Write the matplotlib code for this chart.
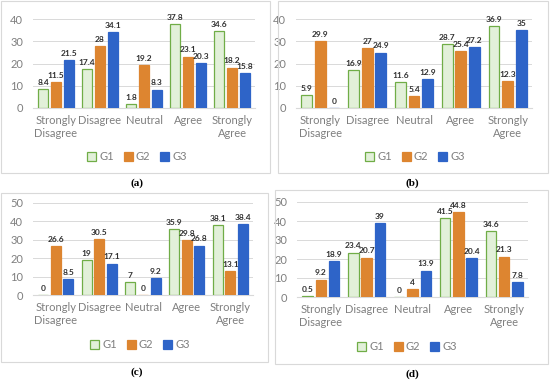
import numpy as np
from matplotlib import pyplot as plt
from matplotlib.patches import Rectangle, Patch

plt.rcParams['font.family'] = ['Lato', 'DejaVu Sans']

categories = ["Strongly\nDisagree", "Disagree", "Neutral", "Agree", "Strongly\nAgree"]
groups = ["G1", "G2", "G3"]

# panel (a)
a_g1 = [8.4, 17.4, 1.8, 37.8, 34.6]
a_g2 = [11.5, 28, 19.2, 23.1, 18.2]
a_g3 = [21.5, 34.1, 8.3, 20.3, 15.8]
# panel (b)
b_g1 = [5.9, 16.9, 11.6, 28.7, 36.9]
b_g2 = [29.9, 27, 5.4, 25.4, 12.3]
b_g3 = [0, 24.9, 12.9, 27.2, 35]
# panel (c)
c_g1 = [0, 19, 7, 35.9, 38.1]
c_g2 = [26.6, 30.5, 0, 29.8, 13.1]
c_g3 = [8.5, 17.1, 9.2, 26.8, 38.4]
# panel (d)
d_g1 = [0.5, 23.4, 0, 41.5, 34.6]
d_g2 = [9.2, 20.7, 4, 44.8, 21.3]
d_g3 = [18.9, 39, 13.9, 20.4, 7.8]

W, H = 550, 382
fig = plt.figure(figsize=(W / 100, H / 100), dpi=100)


def px_axes(x0, x1, ytop, ybot):
    return fig.add_axes([x0 / W, 1 - ybot / H, (x1 - x0) / W, (ybot - ytop) / H])


def px_box(x0, x1, ytop, ybot):
    fig.add_artist(Rectangle((x0 / W, 1 - ybot / H), (x1 - x0) / W, (ybot - ytop) / H,
                             transform=fig.transFigure, fill=False,
                             edgecolor='#D9D9D9', linewidth=0.8))


face = ['#E2F0D9', '#DD8530', '#2E64C8']
edge = ['#70AD47', '#DD8530', '#2E64C8']


def panel(ax, series, ymax, label, cap_xy, leg_xy):
    x = np.arange(len(categories))
    w = 0.23
    step = 0.29
    for i, vals in enumerate(series):
        bars = ax.bar(x + (i - 1) * step, vals, w, color=face[i], edgecolor=edge[i],
                      linewidth=0.9, zorder=3)
        for b, v in zip(bars, vals):
            ax.text(b.get_x() + b.get_width() / 2, v + ymax * 0.035, f"{v:g}",
                    ha='center', va='bottom', fontsize=6, color='#303030',
                    fontweight='bold', clip_on=False)
    ax.set_ylim(0, ymax)
    ax.set_xlim(-0.52, 4.52)
    ax.set_yticks(np.arange(0, ymax + 1, 10))
    ax.set_xticks(x)
    ax.set_xticklabels(categories, linespacing=1.25)
    ax.tick_params(axis='both', length=0, labelsize=8, labelcolor='#7F7F7F')
    ax.tick_params(axis='x', pad=5)
    ax.tick_params(axis='y', pad=7)
    ax.yaxis.grid(True, color='#D9D9D9', linewidth=0.7, zorder=0)
    for s in ax.spines.values():
        s.set_visible(False)
    ax.spines['bottom'].set_visible(True)
    ax.spines['bottom'].set_color('#D9D9D9')
    handles = [Patch(facecolor=face[i], edgecolor=edge[i], linewidth=0.9) for i in range(3)]
    fig.legend(handles, groups, loc='center', bbox_to_anchor=(leg_xy[0] / W, 1 - leg_xy[1] / H),
               ncol=3, frameon=False, fontsize=8, labelcolor='#7F7F7F',
               handlelength=0.8, handleheight=0.8, handletextpad=0.3, columnspacing=0.9)
    fig.text(cap_xy[0] / W, 1 - cap_xy[1] / H, label, ha='center', va='center',
             fontsize=8, fontweight='bold', family='Liberation Serif')


px_box(1, 270, 1, 173)
px_box(278, 548, 1, 173)
px_box(1, 268, 193, 362)
px_box(275, 548, 190, 364)

ax_a = px_axes(33, 255, 19, 108)
panel(ax_a, [a_g1, a_g2, a_g3], 40, "(a)", (137, 183), (137, 157))
ax_b = px_axes(296, 532, 19, 108)
panel(ax_b, [b_g1, b_g2, b_g3], 40, "(b)", (412, 183), (415, 157))
ax_c = px_axes(33, 253, 203, 295)
panel(ax_c, [c_g1, c_g2, c_g3], 50, "(c)", (137, 372), (140, 345))
ax_d = px_axes(297, 528, 202, 297)
panel(ax_d, [d_g1, d_g2, d_g3], 50, "(d)", (412, 374), (407, 347))

fig.savefig("out.png", dpi=100)
